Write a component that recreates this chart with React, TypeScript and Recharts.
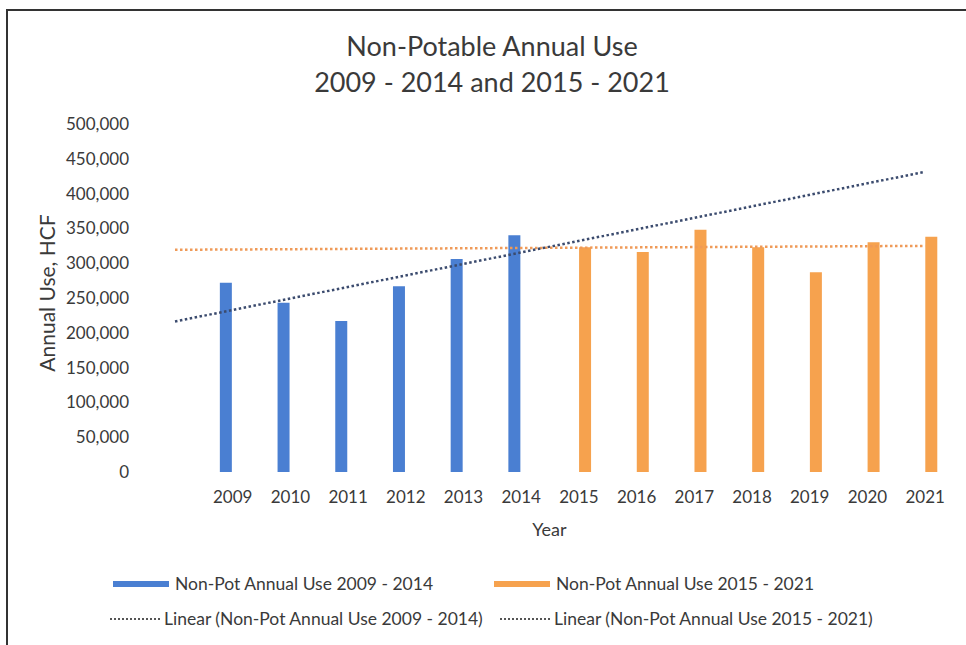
import {
  Bar,
  ComposedChart,
  ReferenceLine,
  XAxis,
  YAxis,
} from "recharts";

// values (HCF)
const years = [2009, 2010, 2011, 2012, 2013, 2014, 2015, 2016, 2017, 2018, 2019, 2020, 2021];
const earlyYears = [2009, 2010, 2011, 2012, 2013, 2014];
const earlyUse = [272000, 243000, 217000, 267000, 306000, 340000];
const lateYears = [2015, 2016, 2017, 2018, 2019, 2020, 2021];
const lateUse = [323000, 316000, 348000, 323000, 287000, 330000, 338000];
const yTicks = [0, 50000, 100000, 150000, 200000, 250000, 300000, 350000, 400000, 450000, 500000];

const earlyName = "Non-Pot Annual Use 2009 - 2014";
const lateName = "Non-Pot Annual Use 2015 - 2021";
const titleLines = ["Non-Potable Annual Use", "2009 - 2014 and 2015 - 2021"];

const BLUE = "#4a7fd2";
const ORANGE = "#f6a24e";
const BLUE_TREND = "#3b4b6e";
const ORANGE_TREND = "#ef9a58";
const FONT = "Lato, 'Open Sans', sans-serif";
const TEXT = "#3a3a3a";

const data = years.map((year) => {
  const i = earlyYears.indexOf(year);
  const j = lateYears.indexOf(year);
  return {
    year,
    early: i >= 0 ? earlyUse[i] : null,
    late: j >= 0 ? lateUse[j] : null,
  };
});

// least squares fit, like Excel's linear trendline
function linearFit(xs: number[], ys: number[]) {
  const n = xs.length;
  const mx = xs.reduce((a, b) => a + b, 0) / n;
  const my = ys.reduce((a, b) => a + b, 0) / n;
  let sxy = 0;
  let sxx = 0;
  xs.forEach((x, k) => {
    sxy += (x - mx) * (ys[k] - my);
    sxx += (x - mx) * (x - mx);
  });
  const slope = sxy / sxx;
  return (x: number) => my + slope * (x - mx);
}

const earlyTrend = linearFit(earlyYears, earlyUse);
const lateTrend = linearFit(lateYears, lateUse);
const trendFrom = years[0] - 1;
const trendTo = years[years.length - 1];

const fmt = (v: number) => v.toLocaleString("en-US");

function Swatch({ color }: { color: string }) {
  return <span style={{ display: "inline-block", width: 56, height: 6, background: color, marginRight: 6 }} />;
}

function Dots({ color }: { color: string }) {
  return (
    <span
      style={{
        display: "inline-block",
        width: 50,
        height: 0,
        borderTop: `2px dotted ${color}`,
        marginRight: 4,
        verticalAlign: "middle",
      }}
    />
  );
}

export default function App() {
  const legendRow = { display: "flex", alignItems: "center", position: "absolute" as const };
  return (
    <div style={{ position: "absolute", left: 0, top: 0, width: 966, height: 645, background: "#fff", fontFamily: FONT, color: TEXT }}>
      <div style={{ position: "absolute", left: 6, top: 9, right: 0, bottom: 0, borderTop: "2px solid #333", borderLeft: "2px solid #333" }} />
      <div style={{ position: "absolute", left: 192, width: 600, top: 28, textAlign: "center", fontSize: 27, lineHeight: "36px" }}>
        {titleLines.map((t) => (
          <div key={t}>{t}</div>
        ))}
      </div>

      <ComposedChart
        width={966}
        height={645}
        data={data}
        margin={{ top: 124, right: 12, bottom: 103, left: 30 }}
        barGap={1}
        style={{ position: "absolute", left: 0, top: 0 }}
      >
        <XAxis
          dataKey="year"
          type="number"
          domain={[trendFrom, trendTo + 0.5]}
          ticks={years}
          interval={0}
          allowDataOverflow
          axisLine={false}
          tickLine={false}
          tickSize={0}
          tickMargin={19}
          height={70}
          tick={{ fill: TEXT, fontSize: 17, fontFamily: FONT }}
          label={{ value: "Year", position: "insideBottom", offset: 6, dx: -15, fill: TEXT, fontSize: 18, fontFamily: FONT }}
        />
        <YAxis
          domain={[0, 500000]}
          ticks={yTicks}
          interval={0}
          width={145}
          axisLine={false}
          tickLine={false}
          tickSize={0}
          tickMargin={46}
          tickFormatter={fmt}
          tick={{ fill: TEXT, fontSize: 17, fontFamily: FONT }}
          label={{ value: "Annual Use, HCF", angle: -90, position: "center", dx: -55, dy: -5, fill: TEXT, fontSize: 21, fontFamily: FONT }}
        />
        <Bar dataKey="early" name={earlyName} fill={BLUE} barSize={12} isAnimationActive={false} />
        <Bar dataKey="late" name={lateName} fill={ORANGE} barSize={12} isAnimationActive={false} />
        <ReferenceLine
          segment={[
            { x: trendFrom, y: lateTrend(trendFrom) },
            { x: trendTo, y: lateTrend(trendTo) },
          ]}
          stroke={ORANGE_TREND}
          strokeWidth={2.5}
          strokeDasharray="2.5 2.5"
        />
        <ReferenceLine
          segment={[
            { x: trendFrom, y: earlyTrend(trendFrom) },
            { x: trendTo, y: earlyTrend(trendTo) },
          ]}
          stroke={BLUE_TREND}
          strokeWidth={2.5}
          strokeDasharray="2.5 2.5"
        />
      </ComposedChart>

      <div style={{ fontSize: 17.5 }}>
        <div style={{ ...legendRow, left: 113, top: 573 }}>
          <Swatch color={BLUE} />
          {earlyName}
        </div>
        <div style={{ ...legendRow, left: 494, top: 573 }}>
          <Swatch color={ORANGE} />
          {lateName}
        </div>
        <div style={{ ...legendRow, left: 110, top: 608 }}>
          <Dots color="#555" />
          {`Linear (${earlyName})`}
        </div>
        <div style={{ ...legendRow, left: 500, top: 608 }}>
          <Dots color="#555" />
          {`Linear (${lateName})`}
        </div>
      </div>
    </div>
  );
}
